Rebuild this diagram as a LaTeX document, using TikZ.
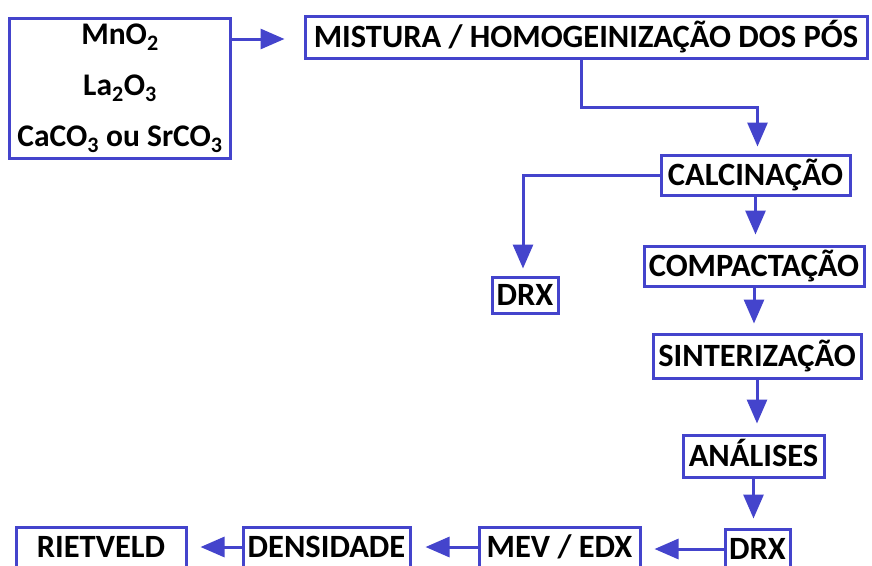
\documentclass[tikz,border=0pt]{standalone}
\usepackage{fontspec}
\setmainfont{Carlito}
\usetikzlibrary{arrows.meta}
\definecolor{blu}{RGB}{68,68,204}
\begin{document}
\begin{tikzpicture}[x=1pt,y=-1pt,
  boxbase/.style={draw=blu, line width=3pt, fill=white, inner sep=0pt},
  box/.style={boxbase, font=\fontsize{32.5}{32.5}\selectfont\bfseries, text height=21pt, text depth=0pt},
  arr/.style={draw=blu, line width=3pt, -{Triangle[length=24pt,width=20pt]}}]
\useasboundingbox (0,0) rectangle (872,565);
\fill[white] (0,0) rectangle (872,565);
% nodes
\node[boxbase, minimum width=221pt, minimum height=140pt, align=center,
      font=\fontsize{31.5}{51}\selectfont\bfseries] (src) at (120,88)
      {MnO\textsubscript{2}\\La\textsubscript{2}O\textsubscript{3}\\CaCO\textsubscript{3} ou SrCO\textsubscript{3}};
\node[box, minimum width=562pt, minimum height=42pt] (mix) at (586,37) {MISTURA / HOMOGEINIZAÇÃO DOS PÓS};
\node[box, minimum width=189pt, minimum height=40pt] (calc) at (755.5,175) {CALCINAÇÃO};
\node[box, minimum width=66pt, minimum height=36pt] (drxa) at (525,295) {DRX};
\node[box, minimum width=220pt, minimum height=40pt] (comp) at (754,266) {COMPACTAÇÃO};
\node[box, minimum width=208pt, minimum height=44pt] (sint) at (757,356) {SINTERIZAÇÃO};
\node[box, minimum width=141pt, minimum height=42pt] (anal) at (753.5,456) {ANÁLISES};
\node[box, minimum width=65pt, minimum height=40pt] (drxb) at (757.5,549) {DRX};
\node[box, minimum width=161pt, minimum height=40pt] (mev) at (559.5,547) {MEV / EDX};
\node[box, minimum width=167pt, minimum height=40pt] (dens) at (326.5,547) {DENSIDADE};
\node[box, minimum width=170pt, minimum height=40pt] (riet) at (101,547) {RIETVELD};
% connectors
\draw[arr] ([shift={(0,-49)}]src.east) -- ([shift={(-19,2)}]mix.west);
\draw[arr] ([shift={(-5,0)}]mix.south) -- ++(0,48) -| ([shift={(2,-7)}]calc.north);
\draw[arr] (calc.west) -| ([shift={(-2,-7)}]drxa.north);
\draw[arr, shorten >=10pt] (calc.south) -- (calc.south |- comp.north);
\draw[arr, shorten >=9pt] (comp.south) -- (comp.south |- sint.north);
\draw[arr, shorten >=10pt] (sint.south) -- (sint.south |- anal.north);
\draw[arr, shorten >=9pt] (anal.south) -- (anal.south |- drxb.north);
\draw[arr, shorten >=13pt] (drxb.west) -- (drxb.west -| mev.east);
\draw[arr, shorten >=14pt] (mev.west) -- (mev.west -| dens.east);
\draw[arr, shorten >=13pt] (dens.west) -- (dens.west -| riet.east);
\end{tikzpicture}
\end{document}
